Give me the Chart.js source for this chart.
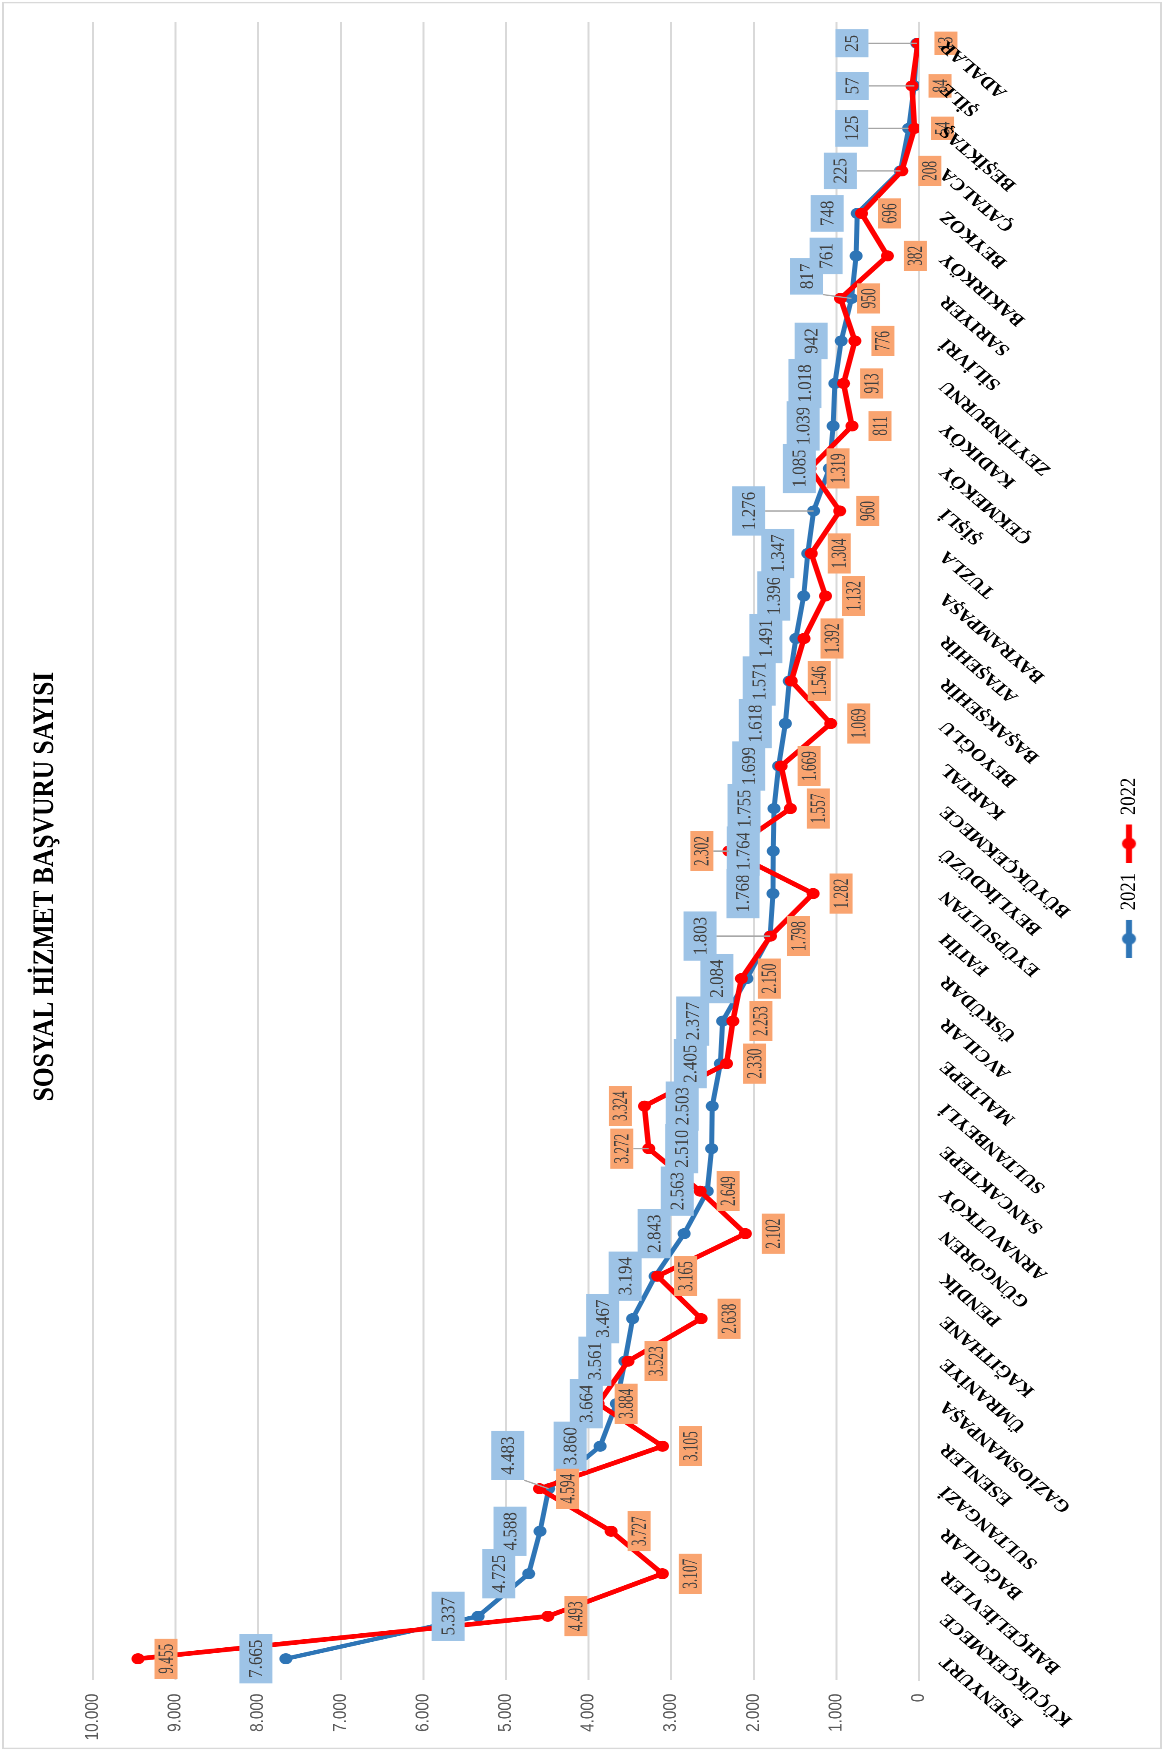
<!DOCTYPE html>
<html lang="tr">
<head>
<meta charset="utf-8">
<title>Sosyal Hizmet Başvuru Sayısı</title>
<script src="https://cdn.jsdelivr.net/npm/chart.js@4.4.1/dist/chart.umd.min.js"></script>
<style>
    html, body { margin: 0; padding: 0; overflow: hidden; background: #fff; }
    /* grafik yatay çizilip sola yatırılıyor, yazılar biraz daraltılmış */
    #kutu {
        position: absolute;
        left: 0;
        top: 0;
        width: 2060px;
        height: 1164px;
        transform-origin: 0 0;
        transform: translateY(1751px) rotate(-90deg) scaleX(0.85);
    }
</style>
</head>
<body>
<div id="kutu"><canvas id="grafik" width="2060" height="1164"></canvas></div>
<script>
// İlçeler (soldan sağa)
const ilceler = ['ESENYURT', 'KÜÇÜKÇEKMECE', 'BAHÇELİEVLER', 'BAĞCILAR', 'SULTANGAZİ', 'ESENLER',
    'GAZİOSMANPAŞA', 'ÜMRANİYE', 'KAĞITHANE', 'PENDİK', 'GÜNGÖREN', 'ARNAVUTKÖY', 'SANCAKTEPE',
    'SULTANBEYLİ', 'MALTEPE', 'AVCILAR', 'ÜSKÜDAR', 'FATİH', 'EYÜPSULTAN', 'BEYLİKDÜZÜ',
    'BÜYÜKÇEKMECE', 'KARTAL', 'BEYOĞLU', 'BAŞAKŞEHİR', 'ATAŞEHİR', 'BAYRAMPAŞA', 'TUZLA', 'ŞİŞLİ',
    'ÇEKMEKÖY', 'KADIKÖY', 'ZEYTİNBURNU', 'SİLİVRİ', 'SARIYER', 'BAKIRKÖY', 'BEYKOZ', 'ÇATALCA',
    'BEŞİKTAŞ', 'ŞİLE', 'ADALAR'];

const basvuru2021 = [7665, 5337, 4725, 4588, 4483, 3860, 3664, 3561, 3467, 3194, 2843, 2563, 2510,
    2503, 2405, 2377, 2084, 1803, 1768, 1764, 1755, 1699, 1618, 1571, 1491, 1396, 1347, 1276,
    1085, 1039, 1018, 942, 817, 761, 748, 225, 125, 57, 25];

const basvuru2022 = [9455, 4493, 3107, 3727, 4594, 3105, 3884, 3523, 2638, 3165, 2102, 2649, 3272,
    3324, 2330, 2253, 2150, 1798, 1282, 2302, 1557, 1669, 1069, 1546, 1392, 1132, 1304, 960,
    1319, 811, 913, 776, 950, 382, 696, 208, 54, 84, 13];

const yillar = ['2021', '2022'];
const renkler = ['#2E75B6', '#FF0000'];

// Eksen sınırları
const eksenEnAz = 0;
const eksenEnCok = 10000;
const eksenAdim = 1000;

// Elle kaydırılmış etiketler (çizgili olanlar)
const kaydirma2021 = {
    4: { dx: 39, dy: -41, cizgi: true },
    17: { dy: -70, cizgi: true },
    27: { dy: -65, cizgi: true },
    32: { dx: 26, dy: -45, cizgi: true },
    35: { dy: -60, cizgi: true },
    36: { dy: -57, cizgi: true },
    37: { dy: -62, cizgi: true },
    38: { dy: -65, cizgi: true }
};
const kaydirma2022 = {
    12: { dy: -27, cizgi: true },
    13: { dy: -24 },
    19: { dy: -27, cizgi: true }
};

const serif = '"Liberation Serif", "Times New Roman", serif';

// Binlik ayırıcı nokta
function binlik(sayi) {
    return String(sayi).replace(/\B(?=(\d{3})+(?!\d))/g, '.');
}

// Etiket ayarları
const etiketAyarlari = [
    { dy: -30, font: '20px ' + serif, sikistir: 1, bosluk: 6.5, yukseklik: 33, zemin: '#9DC3E6', ozel: kaydirma2021 },
    { dy: 28, font: '22px ' + serif, sikistir: 0.71, bosluk: 6, yukseklik: 23, zemin: '#F9A470', ozel: kaydirma2022 }
];

// Lejant simgesi: çizgi + daire
function lejantSimgesi(renk) {
    const c = document.createElement('canvas');
    c.width = 45;
    c.height = 16;
    const g = c.getContext('2d');
    g.strokeStyle = renk;
    g.lineWidth = 6;
    g.beginPath();
    g.moveTo(0, 8);
    g.lineTo(45, 8);
    g.stroke();
    g.fillStyle = renk;
    g.beginPath();
    g.arc(22.5, 8, 7, 0, Math.PI * 2);
    g.fill();
    return c;
}
const simgeler = renkler.map(lejantSimgesi);

// Arka plan ve çerçeve
const cerceve = {
    id: 'cerceve',
    afterLayout(chart) {
        // lejantı biraz sağa kaydır
        if (chart.legend) {
            chart.legend.left += 22;
            chart.legend.right += 22;
        }
    },
    beforeDraw(chart) {
        const ctx = chart.ctx;
        ctx.save();
        ctx.fillStyle = '#fff';
        ctx.fillRect(0, 0, chart.width, chart.height);
        ctx.strokeStyle = '#D9D9D9';
        ctx.lineWidth = 2;
        ctx.strokeRect(3, 3, chart.width - 6, chart.height - 6);
        ctx.restore();
    }
};

// Veri etiketleri
const veriEtiketleri = {
    id: 'veriEtiketleri',
    afterDatasetsDraw(chart) {
        const ctx = chart.ctx;
        etiketAyarlari.forEach((ayar, di) => {
            const meta = chart.getDatasetMeta(di);
            const veriler = chart.data.datasets[di].data;
            meta.data.forEach((nokta, i) => {
                const ozel = ayar.ozel[i] || {};
                const metin = binlik(veriler[i]);
                ctx.save();
                ctx.font = ayar.font;
                const w = ctx.measureText(metin).width * ayar.sikistir + ayar.bosluk * 2;
                const h = ayar.yukseklik;
                const cx = nokta.x + (ozel.dx || 0);
                const cy = nokta.y + (ozel.dy !== undefined ? ozel.dy : ayar.dy);
                const sol = cx - w / 2;
                const ust = cy - h / 2;

                if (ozel.cizgi) {
                    const bx = Math.min(Math.max(nokta.x, sol), sol + w);
                    const by = Math.min(Math.max(nokta.y, ust), ust + h);
                    ctx.strokeStyle = '#A6A6A6';
                    ctx.lineWidth = 1.5;
                    ctx.beginPath();
                    ctx.moveTo(bx, by);
                    ctx.lineTo(nokta.x, nokta.y);
                    ctx.stroke();
                }

                ctx.fillStyle = ayar.zemin;
                ctx.fillRect(sol, ust, w, h);
                ctx.fillStyle = '#404040';
                ctx.textAlign = 'center';
                ctx.textBaseline = 'middle';
                ctx.translate(cx, cy + 1);
                ctx.scale(ayar.sikistir, 1);
                ctx.fillText(metin, 0, 0);
                ctx.restore();
            });
        });
    }
};

const ctx = document.getElementById('grafik').getContext('2d');
new Chart(ctx, {
    type: 'line',
    data: {
        labels: ilceler,
        datasets: [
            {
                label: yillar[0],
                data: basvuru2021,
                borderColor: renkler[0],
                backgroundColor: renkler[0],
                borderWidth: 5,
                pointRadius: 6.5,
                pointHoverRadius: 6.5,
                pointBorderWidth: 0,
                tension: 0,
                order: 1
            },
            {
                label: yillar[1],
                data: basvuru2022,
                borderColor: renkler[1],
                backgroundColor: renkler[1],
                borderWidth: 5.5,
                pointRadius: 6.5,
                pointHoverRadius: 6.5,
                pointBorderWidth: 0,
                tension: 0,
                order: 0
            }
        ]
    },
    options: {
        responsive: false,
        animation: false,
        devicePixelRatio: 2,
        layout: {
            padding: { left: 0, right: 26, top: 0, bottom: 14 }
        },
        scales: {
            x: {
                offset: true,
                grid: { display: false },
                border: { display: true, color: '#D9D9D9', width: 2 },
                ticks: {
                    z: 1,
                    autoSkip: false,
                    minRotation: 45,
                    maxRotation: 45,
                    padding: 8,
                    color: '#000',
                    font: { family: serif, size: 20, weight: 'bold' }
                },
                afterFit(scale) {
                    scale.height = 187;
                }
            },
            y: {
                min: eksenEnAz,
                max: eksenEnCok,
                ticks: {
                    stepSize: eksenAdim,
                    padding: 16,
                    color: '#595959',
                    font: { family: '"Liberation Sans", Arial, sans-serif', size: 18 },
                    callback: (deger) => binlik(deger)
                },
                grid: { color: '#D9D9D9', lineWidth: 2, drawTicks: false },
                border: { display: false },
                afterFit(scale) {
                    scale.width = 83.5;
                }
            }
        },
        plugins: {
            title: {
                display: true,
                text: 'SOSYAL HİZMET BAŞVURU SAYISI',
                color: '#000',
                font: { family: serif, size: 30, weight: 'bold', lineHeight: 1.2 },
                padding: { top: 27, bottom: 30 }
            },
            legend: {
                position: 'bottom',
                labels: {
                    usePointStyle: true,
                    pointStyleWidth: 45,
                    padding: 12,
                    color: '#000',
                    font: { family: serif, size: 22 },
                    generateLabels(chart) {
                        return chart.data.datasets.map((ds, i) => ({
                            text: ds.label,
                            datasetIndex: i,
                            pointStyle: simgeler[i],
                            fillStyle: ds.borderColor,
                            strokeStyle: ds.borderColor,
                            lineWidth: 0,
                            hidden: false,
                            fontColor: '#000'
                        }));
                    }
                }
            },
            tooltip: { enabled: false }
        }
    },
    plugins: [cerceve, veriEtiketleri]
});
</script>
</body>
</html>
